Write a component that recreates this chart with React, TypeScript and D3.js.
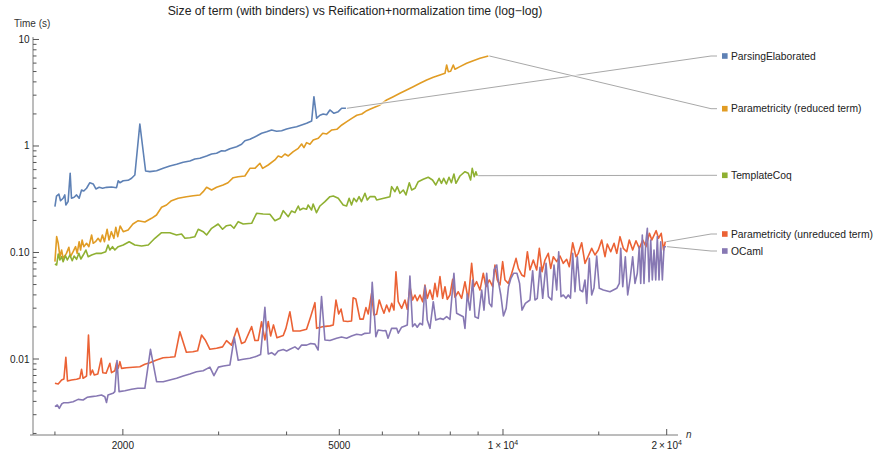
import React from 'react';
import * as d3 from 'd3';

const title = 'Size of term (with binders) vs Reification+normalization time (log\u2212log)';
const yAxisLabel = 'Time (s)';
const xAxisLabel = 'n';
const seriesNames = ['ParsingElaborated', 'Parametricity (reduced term)', 'TemplateCoq', 'Parametricity (unreduced term)', 'OCaml'];
const seriesColors = ['#5E81B5', '#E19C24', '#8FB032', '#EB6235', '#8778B3'];

const xMajorTicks = [2000, 5000, 10000, 20000];
const xMajorLabels = ['2000', '5000', '1\u2009\u00d7\u200910|4', '2\u2009\u00d7\u200910|4'];
const xMinorTicks = [1500, 3000, 4000, 6000, 7000, 8000, 9000, 15000];
const yMajorTicks = [0.01, 0.1, 1, 10];
const yMajorLabels = ['0.01', '0.10', '1', '10'];

const parsingElaborated: [number, number][] = [
  [1500,0.269],[1510,0.339],[1525,0.354],[1536,0.306],[1553,0.323],[1564,0.347],[1571,0.279],[1586,0.300],[1600,0.554],[1609,0.323],
  [1627,0.330],[1644,0.347],[1662,0.323],[1679,0.386],[1695,0.378],[1715,0.401],[1739,0.452],[1764,0.440],[1784,0.395],[1809,0.409],
  [1835,0.401],[1867,0.409],[1906,0.412],[1947,0.406],[1961,0.472],[1975,0.452],[2003,0.472],[2045,0.476],[2075,0.498],[2104,0.534],
  [2149,1.609],[2202,0.582],[2242,0.574],[2307,0.586],[2372,0.618],[2440,0.649],[2511,0.673],[2582,0.703],[2656,0.723],[2713,0.755],
  [2771,0.766],[2851,0.806],[2912,0.841],[2974,0.854],[3038,0.903],[3081,0.897],[3146,0.943],[3237,0.985],[3306,1.037],[3353,1.121],
  [3425,1.156],[3523,1.241],[3599,1.316],[3676,1.362],[3754,1.413],[3835,1.374],[3917,1.392],[4000,1.444],[4086,1.485],[4173,1.518],
  [4263,1.575],[4354,1.634],[4448,1.717],[4491,2.903],[4543,1.820],[4606,1.942],[4671,1.997],[4739,1.967],[4805,2.178],[4888,2.028],
  [4978,2.099],[5050,2.259],[5143,2.259]
];

const parametricityReduced: [number, number][] = [
  [1500,0.0820],[1511,0.1408],[1521,0.1220],[1532,0.0913],[1543,0.1055],[1553,0.0881],[1575,0.0982],[1591,0.1120],[1602,0.0913],[1620,0.1017],
  [1637,0.1134],[1648,0.0982],[1662,0.1263],[1672,0.1055],[1683,0.1310],[1695,0.1134],[1715,0.1220],[1732,0.1134],[1752,0.1460],[1764,0.1220],
  [1781,0.1263],[1801,0.1359],[1819,0.1263],[1834,0.1460],[1850,0.1263],[1871,0.1652],[1886,0.1310],[1905,0.1568],[1925,0.1359],[1941,0.1725],
  [1957,0.1408],[1977,0.1774],[2003,0.1568],[2045,0.1627],[2087,0.1852],[2134,0.1989],[2195,0.1934],[2258,0.2094],[2306,0.2250],[2356,0.2659],
  [2406,0.2793],[2457,0.3065],[2528,0.3227],[2618,0.3343],[2694,0.3415],[2771,0.3467],[2810,0.3723],[2851,0.4097],[2912,0.3862],[2974,0.4097],
  [3057,0.4303],[3121,0.452],[3191,0.504],[3258,0.515],[3353,0.523],[3425,0.617],[3498,0.617],[3573,0.688],[3614,0.617],[3700,0.663],
  [3807,0.739],[3860,0.806],[3916,0.784],[3972,0.841],[4029,0.806],[4115,0.884],[4203,0.951],[4263,1.044],[4305,0.964],[4353,1.075],
  [4416,1.037],[4478,1.139],[4575,1.181],[4662,1.315],[4742,1.296],[4844,1.413],[4948,1.434],[5054,1.575],[5162,1.691],[5272,1.819],
  [5385,1.942],[5500,1.998],[5616,2.145],[5693,2.211],[5939,2.427],[6110,2.703],[6284,2.904],[6464,3.124],[6650,3.356],[6838,3.604],
  [7036,3.877],[7239,4.166],[7444,4.419],[7658,4.642],[7822,4.814],[7878,5.763],[7932,4.985],[8012,5.026],[8102,5.763],[8159,5.249],
  [8334,5.556],[8573,5.976],[8816,6.325],[9071,6.659],[9398,7.0]
];

const templateCoq: [number, number][] = [
  [1500,0.0780],[1511,0.0763],[1521,0.0968],[1532,0.0850],[1543,0.0913],[1553,0.0820],[1568,0.0933],[1581,0.0850],[1598,0.0947],[1614,0.0837],
  [1627,0.0927],[1644,0.0863],[1660,0.0982],[1674,0.0869],[1691,0.0947],[1710,0.1055],[1727,0.0913],[1752,0.0947],[1789,0.0982],[1827,0.0982],
  [1860,0.1017],[1878,0.1176],[1893,0.1055],[1914,0.1134],[1933,0.1055],[1961,0.1134],[2003,0.1176],[2054,0.1263],[2104,0.1176],[2165,0.1151],
  [2227,0.1176],[2290,0.1359],[2356,0.1533],[2440,0.1533],[2510,0.1460],[2564,0.1492],[2601,0.1359],[2656,0.1377],[2713,0.1408],[2752,0.1652],
  [2810,0.1568],[2851,0.1460],[2912,0.1687],[2994,0.1852],[3050,0.1652],[3102,0.1785],[3156,0.1812],[3201,0.1687],[3259,0.1947],[3329,0.1852],
  [3450,0.1879],[3523,0.2333],[3622,0.2300],[3727,0.2285],[3807,0.1989],[3889,0.2094],[3944,0.2470],[4029,0.2169],[4086,0.2454],[4144,0.2367],
  [4203,0.2733],[4232,0.2507],[4291,0.2600],[4353,0.2545],[4382,0.2793],[4446,0.2507],[4476,0.2854],[4540,0.2367],[4607,0.2733],[4705,0.3000],
  [4806,0.3343],[4874,0.3394],[4978,0.3227],[5084,0.2793],[5157,0.2733],[5213,0.3227],[5266,0.2793],[5317,0.3227],[5378,0.3000],[5437,0.3343],
  [5492,0.3000],[5574,0.3595],[5629,0.3112],[5693,0.3343],[5815,0.3343],[5857,0.3112],[6196,0.3343],[6240,0.4149],[6329,0.3723],[6391,0.4149],
  [6464,0.3595],[6556,0.3862],[6631,0.3467],[6725,0.452],[6794,0.3862],[6888,0.4005],[6985,0.4622],[7134,0.4866],[7286,0.5084],[7421,0.4794],
  [7524,0.4303],[7629,0.497],[7706,0.4462],[7780,0.497],[7869,0.4398],[7956,0.5084],[8037,0.452],[8124,0.5457],[8193,0.4462],[8334,0.5227],
  [8513,0.5735],[8633,0.5538],[8719,0.4794],[8779,0.617],[8853,0.515],[8916,0.5735],[8966,0.526]
];

const parametricityUnreduced: [number, number][] = [
  [1500,0.00591],[1521,0.00583],[1543,0.00635],[1558,0.00649],[1571,0.01038],[1582,0.00621],[1609,0.00635],[1644,0.00645],[1667,0.00659],[1679,0.0080],
  [1690,0.00659],[1715,0.00693],[1729,0.0168],[1743,0.00708],[1758,0.00788],[1772,0.00708],[1799,0.00724],[1825,0.01015],[1837,0.00744],[1863,0.00734],
  [1893,0.00911],[1906,0.00744],[1933,0.00776],[1947,0.00923],[1961,0.00817],[1975,0.00944],[1989,0.00817],[2031,0.00828],[2087,0.00836],[2149,0.00847],
  [2195,0.00892],[2242,0.00923],[2307,0.00979],[2372,0.01028],[2440,0.01038],[2493,0.01051],[2546,0.01803],[2617,0.01157],[2690,0.01171],[2745,0.01197],
  [2791,0.0168],[2834,0.0151],[2891,0.01233],[2974,0.0126],[3050,0.0130],[3102,0.01487],[3168,0.0135],[3244,0.0194],[3306,0.0140],[3353,0.01445],
  [3450,0.02015],[3498,0.01493],[3547,0.01494],[3598,0.02237],[3649,0.0151],[3701,0.0225],[3739,0.01645],[3784,0.0209],[3840,0.01586],[3944,0.01662],
  [3989,0.0194],[4057,0.02776],[4112,0.01831],[4232,0.01831],[4353,0.0190],[4429,0.02497],[4510,0.0338],[4543,0.0194],[4673,0.02015],[4806,0.02046],
  [4874,0.0209],[4930,0.0358],[4988,0.02647],[5038,0.02943],[5090,0.02271],[5180,0.02246],[5266,0.02271],[5302,0.0376],[5363,0.0366],[5457,0.0237],
  [5533,0.0237],[5597,0.0304],[5652,0.02647],[5733,0.04137],[5789,0.0259],[5856,0.02629],[5922,0.0358],[5982,0.03056],[6041,0.02686],[6110,0.0321],
  [6179,0.02776],[6242,0.0333],[6303,0.0288],[6356,0.066],[6418,0.0345],[6511,0.02987],[6603,0.0358],[6668,0.02923],[6743,0.0477],[6820,0.0358],
  [6888,0.0399],[6955,0.03527],[7036,0.0399],[7116,0.0345],[7186,0.0495],[7257,0.03713],[7340,0.0444],[7424,0.03634],[7497,0.05133],[7571,0.03846],
  [7658,0.0593],[7746,0.03713],[7822,0.0477],[7899,0.03634],[7988,0.0399],[8081,0.05603],[8159,0.0380],[8274,0.0428],[8393,0.03713],[8513,0.0532],
  [8633,0.0358],[8757,0.0791],[8842,0.0477],[8944,0.0532],[9071,0.0444],[9199,0.0638],[9305,0.0477],[9438,0.0552],[9575,0.0477],[9666,0.0763],
  [9761,0.0552],[9873,0.0495],[9986,0.082],[10084,0.0552],[10228,0.0513],[10377,0.0638],[10568,0.0881],[10672,0.071],[10826,0.0615],[10947,0.0593],
  [11088,0.1017],[11210,0.0685],[11369,0.085],[11534,0.0685],[11663,0.1094],[11798,0.066],[11946,0.085],[12114,0.0982],[12240,0.071],[12375,0.0913],
  [12553,0.082],[12729,0.0927],[12909,0.0791],[13094,0.0863],[13240,0.0736],[13433,0.1235],[13621,0.0913],[13755,0.0982],[13953,0.1235],[14151,0.0791],
  [14350,0.0927],[14558,0.1094],[14763,0.0947],[14971,0.1055],[15187,0.131],[15402,0.0913],[15553,0.1202],[15780,0.1017],[16004,0.122],[16189,0.0982],
  [16412,0.1408],[16645,0.1094],[16884,0.1017],[17070,0.131],[17317,0.1055],[17562,0.129],[17810,0.1094],[18070,0.131],[18327,0.1134],[18588,0.1514],
  [18780,0.131],[19128,0.1602],[19317,0.1359],[19541,0.1514],[19736,0.1055],[19880,0.1263]
];

const ocaml: [number, number][] = [
  [1500,0.00357],[1515,0.0037],[1528,0.00344],[1543,0.00378],[1558,0.00389],[1586,0.00389],[1620,0.00397],[1655,0.00418],[1690,0.00412],[1719,0.00437],
  [1752,0.00443],[1789,0.00449],[1827,0.00459],[1853,0.00443],[1866,0.0039],[1878,0.00459],[1918,0.00476],[1933,0.00494],[1951,0.00969],[1968,0.00494],
  [2017,0.00504],[2075,0.0052],[2131,0.00531],[2195,0.00531],[2248,0.01233],[2307,0.00612],[2372,0.00612],[2440,0.00635],[2511,0.00659],[2582,0.00693],
  [2656,0.00724],[2732,0.0076],[2810,0.00776],[2891,0.00839],[2941,0.00697],[2997,0.00839],[3062,0.0086],[3147,0.00879],[3205,0.016],[3259,0.00973],
  [3329,0.00994],[3425,0.01015],[3523,0.0106],[3583,0.0110],[3649,0.03056],[3701,0.01114],[3754,0.01147],[3807,0.0109],[3860,0.0119],[3944,0.01228],
  [4001,0.0119],[4057,0.01233],[4144,0.0130],[4203,0.01233],[4263,0.0135],[4354,0.0135],[4429,0.0140],[4510,0.0138],[4572,0.01215],[4638,0.0386],
  [4705,0.0151],[4806,0.01494],[4944,0.01566],[5048,0.01608],[5157,0.01566],[5266,0.01645],[5380,0.01709],[5492,0.0168],[5574,0.01742],[5693,0.01754],
  [5748,0.05244],[5837,0.0162],[5894,0.0187],[6019,0.01842],[6088,0.0185],[6146,0.01566],[6240,0.0194],[6375,0.0194],[6418,0.0175],[6511,0.01988],
  [6603,0.02046],[6668,0.0209],[6743,0.0602],[6820,0.02015],[6888,0.02136],[6955,0.01988],[7036,0.02167],[7111,0.0209],[7186,0.04846],[7257,0.0232],
  [7340,0.0194],[7444,0.0345],[7524,0.0232],[7658,0.02406],[7767,0.02355],[7877,0.02497],[7988,0.02355],[8124,0.0638],[8217,0.02686],[8334,0.0259],
  [8452,0.02497],[8513,0.0194],[8596,0.04078],[8694,0.0288],[8794,0.0552],[8881,0.02497],[9006,0.02406],[9137,0.0444],[9227,0.0288],[9333,0.0638],
  [9438,0.0333],[9535,0.03094],[9629,0.0685],[9740,0.0763],[9807,0.0532],[9908,0.0399],[10019,0.02536],[10135,0.02987],[10236,0.0477],[10341,0.05724],
  [10457,0.0638],[10609,0.0638],[10728,0.0513],[10838,0.0288],[10993,0.0333],[11210,0.0358],[11338,0.06748],[11450,0.0358],[11562,0.03713],[11696,0.07264],
  [11831,0.03713],[12000,0.0791],[12118,0.03846],[12291,0.0358],[12411,0.0763],[12553,0.0444],[12661,0.1017],[12785,0.03846],[12909,0.0399],[13057,0.03713],
  [13184,0.0399],[13307,0.0373],[13433,0.0982],[13564,0.0428],[13698,0.0913],[13854,0.0444],[14013,0.0428],[14151,0.0552],[14253,0.0333],[14411,0.0881],
  [14558,0.0399],[14700,0.0464],[14869,0.0927],[15034,0.0461],[15293,0.0444],[15731,0.0428],[16186,0.0461],[16364,0.0513],[16462,0.1094],[16604,0.0477],
  [16786,0.0913],[16955,0.0399],[17121,0.0552],[17317,0.0913],[17488,0.0513],[17659,0.0638],[17810,0.1134],[17916,0.0513],[18038,0.146],[18168,0.0513],
  [18300,0.122],[18426,0.1687],[18558,0.0532],[18692,0.131],[18819,0.0552],[18954,0.1055],[19091,0.0552],[19221,0.1408],[19360,0.0552],[19500,0.1263],
  [19635,0.0552],[19776,0.1134],[19945,0.1134]
];

const allSeries = [parsingElaborated, parametricityReduced, templateCoq, parametricityUnreduced, ocaml];

const W = 875;
const H = 456;
const FONT = "'Liberation Sans', Arial, Helvetica, sans-serif";

export default function App() {
  const x = d3.scaleLog().domain([1367, 20980]).range([33, 678]);
  const y = d3.scaleLog().domain([0.001934, 10.55]).range([435, 37]);
  const line = d3.line<[number, number]>().x(d => x(d[0])).y(d => y(d[1]));

  const yMinor: number[] = [];
  [0.001, 0.01, 0.1, 1].forEach(dec => {
    for (let k = 2; k <= 9; k++) {
      const v = dec * k;
      if (v >= 0.001934 && v <= 10.55) yMinor.push(v);
    }
  });

  const legendX = 722;
  const legendY = [56, 108.7, 175.3, 234, 251];
  const axisColor = '#7a7a7a';
  const tickColor = '#555';

  return (
    <svg width={W} height={H} style={{ position: 'absolute', left: 0, top: 0, background: '#fff' }} fontFamily={FONT}>
      <rect x={0} y={0} width={W} height={H} fill="#fff" />
      {/* title */}
      <text x={355} y={15} textAnchor="middle" fontSize={12.2} fill="#222">{title}</text>
      <text x={14} y={27} fontSize={10} fill="#333">{yAxisLabel}</text>

      {/* series */}
      {allSeries.map((s, i) => (
        <path key={i} d={line(s) || ''} fill="none" stroke={seriesColors[i]} strokeWidth={1.6} strokeLinejoin="round" />
      ))}

      {/* leader lines */}
      {allSeries.map((s, i) => {
        const last = s[s.length - 1];
        const x0 = x(last[0]);
        const y0 = y(last[1]);
        const ly = legendY[i];
        const d = `M${x0 + 1},${y0} L${legendX - 11},${ly} L${legendX - 5},${ly}`;
        return (
          <g key={'l' + i}>
            <path d={d} fill="none" stroke="#fff" strokeWidth={3} strokeOpacity={0.7} />
            <path d={d} fill="none" stroke="#a8a8a8" strokeWidth={1} />
          </g>
        );
      })}

      {/* legend */}
      {seriesNames.map((name, i) => (
        <g key={'g' + i}>
          <rect x={legendX} y={legendY[i] - 2.8} width={5.6} height={5.6} fill={seriesColors[i]} />
          <text x={legendX + 9} y={legendY[i] + 3.6} fontSize={10.3} fill="#222">{name}</text>
        </g>
      ))}

      {/* axes */}
      <line x1={33} y1={37} x2={33} y2={435} stroke={axisColor} strokeWidth={1} />
      <line x1={30} y1={435} x2={678} y2={435} stroke={axisColor} strokeWidth={1} />

      {/* y ticks */}
      {yMajorTicks.map((v, i) => (
        <g key={'ym' + i}>
          <line x1={33} x2={39} y1={y(v)} y2={y(v)} stroke={tickColor} strokeWidth={1} />
          <text x={29.5} y={y(v) + 3.5} textAnchor="end" fontSize={10} fill="#222">{yMajorLabels[i]}</text>
        </g>
      ))}
      {yMinor.map((v, i) => (
        <line key={'yn' + i} x1={33} x2={36.5} y1={y(v)} y2={y(v)} stroke={tickColor} strokeWidth={1} />
      ))}

      {/* x ticks */}
      {xMajorTicks.map((v, i) => {
        const parts = xMajorLabels[i].split('|');
        return (
          <g key={'xm' + i}>
            <line x1={x(v)} x2={x(v)} y1={435} y2={429} stroke={tickColor} strokeWidth={1} />
            <text x={x(v)} y={449} textAnchor="middle" fontSize={10} fill="#222">
              <tspan>{parts[0]}</tspan>
              {parts[1] ? <tspan dy={-4} fontSize={7}>{parts[1]}</tspan> : null}
            </text>
          </g>
        );
      })}
      {xMinorTicks.map((v, i) => (
        <line key={'xn' + i} x1={x(v)} x2={x(v)} y1={435} y2={431.5} stroke={tickColor} strokeWidth={1} />
      ))}
      <text x={686} y={437.5} fontSize={10} fontStyle="italic" fill="#333">{xAxisLabel}</text>
    </svg>
  );
}
